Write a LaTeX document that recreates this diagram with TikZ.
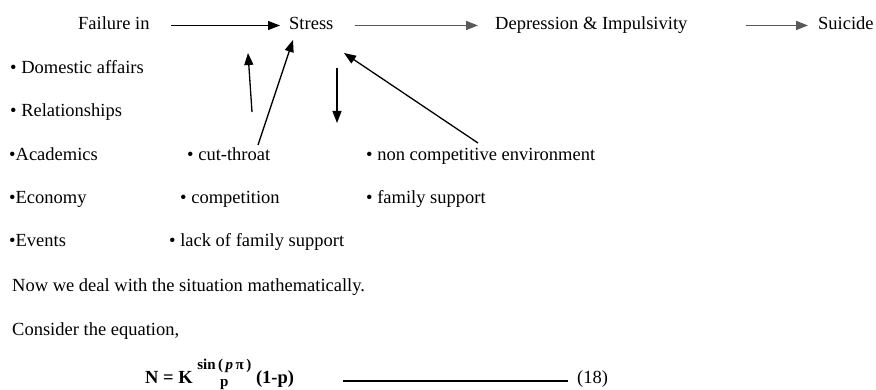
\documentclass[tikz,border=0pt]{standalone}
\usepackage{fontspec}
\setmainfont{Liberation Serif}
\usetikzlibrary{arrows.meta}
\tikzset{
  txt/.style={anchor=base west, inner sep=0pt, font=\fontsize{18.5}{22}\selectfont},
  hd/.style={txt, text height=13pt, text depth=4pt},
  arr/.style={-{Triangle[length=12pt,width=9pt]}, line width=1.3pt},
}
\begin{document}
\begin{tikzpicture}[x=1pt,y=-1pt]
\useasboundingbox (0,0) rectangle (876,390);
% chain along the top
\node[hd] (fail) at (78,30) {Failure in};
\node[hd] (stress) at (289,30) {Stress};
\node[hd] (dep) at (495,30) {Depression \& Impulsivity};
\node[hd] (sui) at (818,30) {Suicide};
\draw[arr] ([xshift=21pt]fail.east) -- ([xshift=-9pt]stress.west);
\draw[arr, line width=1.7pt, draw=black!65] ([xshift=21pt]stress.east) -- ([xshift=-17pt]dep.west);
\draw[arr, line width=1.7pt, draw=black!65] ([xshift=58pt]dep.east) -- ([xshift=-10pt]sui.west);
% causes
\node[txt] (dom) at (10,74) {\textbullet{} Domestic affairs};
\node[txt] (rel) at (10,117) {\textbullet{} Relationships};
\node[txt] (aca) at (9,161) {\textbullet{}Academics};
\node[txt] (eco) at (9,204) {\textbullet{}Economy};
\node[txt] (evt) at (9,247) {\textbullet{}Events};
\node[txt] (ct) at (187,161) {\textbullet{} cut-throat};
\node[txt] (comp) at (180,204) {\textbullet{} competition};
\node[txt] (lack) at (169,247) {\textbullet{} lack of family support};
\node[txt] (ncomp) at (366,161) {\textbullet{} non competitive environment};
\node[txt] (fam) at (366,204) {\textbullet{} family support};
% arrows round Stress
\coordinate (a1t) at (252,112); \coordinate (a1h) at (248,53);
\coordinate (a2t) at (258,145); \coordinate (a2h) at (293,40);
\coordinate (a3t) at (337,68);  \coordinate (a3h) at (337,123);
\coordinate (a4t) at (478,143); \coordinate (a4h) at (344,53);
\draw[arr] (a1t) -- (a1h);
\draw[arr] (a2t) -- (a2h);
\draw[arr] (a3t) -- (a3h);
\draw[arr] (a4t) -- (a4h);
% text below
\node[txt] (now) at (12,291) {Now we deal with the situation mathematically.};
\node[txt] (cons) at (12,335) {Consider the equation,};
\node[txt] (eq) at (145,383) {\bfseries N = K \raisebox{-3pt}{\shortstack{\fontsize{15}{16}\selectfont sin\,(\,\textit{p}\,π\,)\\[3pt]\fontsize{15}{16}\selectfont p}} (1-p)};
\node[txt] (num) at (577,383) {(18)};
\coordinate (l1) at (343,381); \coordinate (l2) at (568,381);
\draw[line width=1.2pt] (l1) -- (l2);
\end{tikzpicture}
\end{document}
